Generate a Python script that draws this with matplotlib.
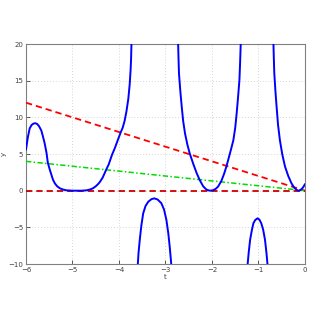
import numpy as np
import matplotlib
matplotlib.use("Agg")
import matplotlib.pyplot as plt

# blue curve
t_a = [-6.0, -5.96, -5.92, -5.88, -5.84, -5.80, -5.76, -5.72, -5.67, -5.64,
       -5.60, -5.56, -5.53, -5.49, -5.45, -5.42, -5.38, -5.33, -5.27, -5.20,
       -5.13, -5.00, -4.90, -4.80, -4.70, -4.63, -4.56, -4.50, -4.45, -4.41,
       -4.35, -4.28, -4.22, -4.15, -4.09, -4.02, -3.96, -3.92, -3.88, -3.84,
       -3.80, -3.77, -3.75, -3.74, -3.73]
y_a = [5.6, 7.3, 8.5, 8.95, 9.15, 9.2, 9.1, 8.8, 8.2, 7.5,
       6.5, 5.2, 3.8, 2.9, 2.1, 1.5, 1.0, 0.6, 0.32, 0.15,
       0.05, 0.0, 0.0, 0.0, 0.05, 0.15, 0.32, 0.6, 0.9, 1.2,
       1.8, 2.8, 3.6, 4.9, 5.8, 7.0, 8.0, 8.6, 9.5, 10.8,
       12.5, 14.5, 16.5, 18.0, 20.5]

t_b = [-3.60, -3.58, -3.55, -3.52, -3.48, -3.43, -3.37, -3.30, -3.24, -3.17,
       -3.09, -3.03, -2.98, -2.94, -2.91, -2.89, -2.87]
y_b = [-10.5, -8.5, -6.5, -4.8, -3.1, -2.1, -1.5, -1.15, -1.05, -1.2,
       -1.7, -2.6, -4.0, -5.8, -7.6, -9.0, -10.5]

t_c = [-2.73, -2.72, -2.71, -2.68, -2.65, -2.62, -2.58, -2.53, -2.48, -2.40,
       -2.33, -2.26, -2.19, -2.12, -2.05, -1.98, -1.92, -1.87, -1.80, -1.74,
       -1.69, -1.63, -1.58, -1.54, -1.50, -1.47, -1.44, -1.41, -1.395, -1.38]
y_c = [20.5, 18.0, 16.0, 13.5, 11.4, 9.5, 7.8, 6.3, 5.1, 3.6,
       2.4, 1.4, 0.6, 0.15, 0.0, 0.05, 0.25, 0.55, 1.3, 2.3,
       3.3, 4.7, 5.9, 6.9, 8.6, 10.5, 12.7, 15.1, 17.5, 20.5]

t_d = [-1.24, -1.21, -1.18, -1.14, -1.11, -1.07, -1.02, -0.98, -0.94, -0.90,
       -0.86, -0.83, -0.80]
y_d = [-10.5, -8.4, -6.7, -5.3, -4.45, -4.0, -3.77, -3.95, -4.45, -5.3,
       -6.7, -8.4, -10.5]

t_e = [-0.68, -0.67, -0.66, -0.635, -0.61, -0.58, -0.54, -0.49, -0.43, -0.36,
       -0.29, -0.23, -0.18, -0.14, -0.10, -0.06, -0.03, 0.0]
y_e = [20.5, 18.0, 16.0, 13.5, 11.4, 9.0, 6.9, 5.0, 3.3, 2.0,
       1.0, 0.4, 0.1, 0.0, 0.08, 0.3, 0.55, 0.9]

# straight reference lines (end points)
t_line = [-6, 0]
y_red = [12, 0]
y_green = [4, 0]
y_zero = [0, 0]

xticks = [-6, -5, -4, -3, -2, -1, 0]
yticks = [-10, -5, 0, 5, 10, 15, 20]

fig = plt.figure(figsize=(3.14, 3.19), dpi=100)
ax = fig.add_axes([0.0828, 0.1724, 0.8885, 0.6896])

for tt, yy in [(t_a, y_a), (t_b, y_b), (t_c, y_c), (t_d, y_d), (t_e, y_e)]:
    ax.plot(tt, yy, color="#0000ff", linewidth=1.4, zorder=4,
            solid_joinstyle="round", solid_capstyle="round")

ax.plot(t_line, y_red, color="#ff0000", linewidth=1.3, dashes=(3.5, 2.2), zorder=3)
ax.plot(t_line, y_green, color="#00dd00", linewidth=1.1,
        dashes=(3.5, 1.5, 1, 1.5), zorder=3)
ax.plot(t_line, y_zero, color="#cc0000", linewidth=1.3, dashes=(3.5, 2.2), zorder=3)

ax.set_xlim(-6, 0)
ax.set_ylim(-10, 20)
ax.set_xticks(xticks)
ax.set_yticks(yticks)
ax.grid(True, linestyle=(0, (1, 2.5)), color="#c8c8c8", linewidth=0.6)
ax.tick_params(direction="in", length=3, width=0.6, labelsize=5,
               colors="#404040", pad=2)
for s in ax.spines.values():
    s.set_color("#808080")
    s.set_linewidth(0.8)
ax.set_xlabel("t", fontsize=5, color="#404040", labelpad=1)
ax.set_ylabel("y", fontsize=5, color="#404040", labelpad=1)

fig.savefig("out.png", dpi=100)
